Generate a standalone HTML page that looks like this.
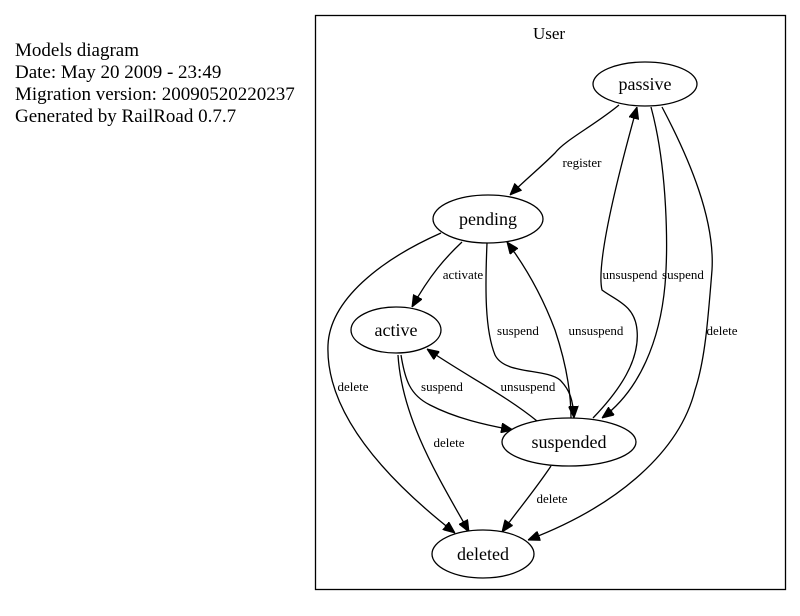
<!DOCTYPE html>
<html><head><meta charset="utf-8"><style>
html,body{margin:0;padding:0;background:#fff;}
svg{display:block;}
text{font-family:"Liberation Serif",serif;fill:#000;}
.n{font-size:18px;text-anchor:middle;}
.e{font-size:13px;text-anchor:middle;}
.h{font-size:19px;}
path{fill:none;stroke:#000;stroke-width:1.3;}
ellipse{fill:#fff;stroke:#000;stroke-width:1.3;}
</style></head><body>
<svg width="800" height="616" viewBox="0 0 800 616" xmlns="http://www.w3.org/2000/svg">
<defs><marker id="a" viewBox="0 0 12 10" refX="12" refY="5" markerWidth="12" markerHeight="10" markerUnits="userSpaceOnUse" orient="auto"><path d="M0,0 L12,5 L0,10 Z" style="fill:#000;stroke:#000;stroke-width:1"/></marker></defs>
<text class="h" x="15" y="56">Models diagram</text>
<text class="h" x="15" y="78">Date: May 20 2009 - 23:49</text>
<text class="h" x="15" y="100">Migration version: 20090520220237</text>
<text class="h" x="15" y="122">Generated by RailRoad 0.7.7</text>
<rect x="315.5" y="15.5" width="470" height="574" fill="none" stroke="#000" stroke-width="1.3"/>
<text class="n" x="549" y="39" style="font-size:17px">User</text>

<path d="M619,105 C595,125 565,140 555,153 C540,168 525,180 510,195" marker-end="url(#a)"/>
<text class="e" x="582" y="167">register</text>
<path d="M462,242 C445,258 430,275 412,307" marker-end="url(#a)"/>
<text class="e" x="463" y="279">activate</text>
<path d="M441,233 C380,260 330,300 328,345 C325,420 400,490 455,533" marker-end="url(#a)"/>
<text class="e" x="353" y="391">delete</text>
<path d="M487,243 C485,290 485,330 495,355 C505,375 545,368 560,380 C570,390 573,400 574,418" marker-end="url(#a)"/>
<text class="e" x="518" y="335">suspend</text>
<path d="M571,418 C571,390 565,360 555,330 C540,290 522,262 507,242" marker-end="url(#a)"/>
<text class="e" x="596" y="335">unsuspend</text>
<path d="M593,418 C620,390 640,360 637,330 C635,305 615,300 602,290 C595,260 625,150 637,107" marker-end="url(#a)"/>
<text class="e" x="630" y="279">unsuspend</text>
<path d="M651,107 C668,170 668,250 665,285 C660,340 640,390 602,418" marker-end="url(#a)"/>
<text class="e" x="683" y="279">suspend</text>
<path d="M662,107 C690,160 715,220 712,270 C708,320 705,360 695,390 C680,450 620,505 528,540" marker-end="url(#a)"/>
<text class="e" x="722" y="335">delete</text>
<path d="M401,355 C405,380 410,395 430,405 C455,418 485,425 513,430" marker-end="url(#a)"/>
<text class="e" x="442" y="391">suspend</text>
<path d="M537,421 C505,395 465,375 427,349" marker-end="url(#a)"/>
<text class="e" x="528" y="391">unsuspend</text>
<path d="M398,355 C402,420 440,480 469,532" marker-end="url(#a)"/>
<text class="e" x="449" y="447">delete</text>
<path d="M551,466 C535,490 518,510 502,532" marker-end="url(#a)"/>
<text class="e" x="552" y="503">delete</text>

<ellipse cx="645" cy="84" rx="52" ry="22"/>
<text class="n" x="645" y="90">passive</text>
<ellipse cx="488" cy="219" rx="55" ry="24"/>
<text class="n" x="488" y="225">pending</text>
<ellipse cx="396" cy="330" rx="45" ry="23"/>
<text class="n" x="396" y="336">active</text>
<ellipse cx="569" cy="442" rx="67" ry="24"/>
<text class="n" x="569" y="448">suspended</text>
<ellipse cx="483" cy="554" rx="51" ry="24"/>
<text class="n" x="483" y="560">deleted</text>
</svg>
</body></html>
